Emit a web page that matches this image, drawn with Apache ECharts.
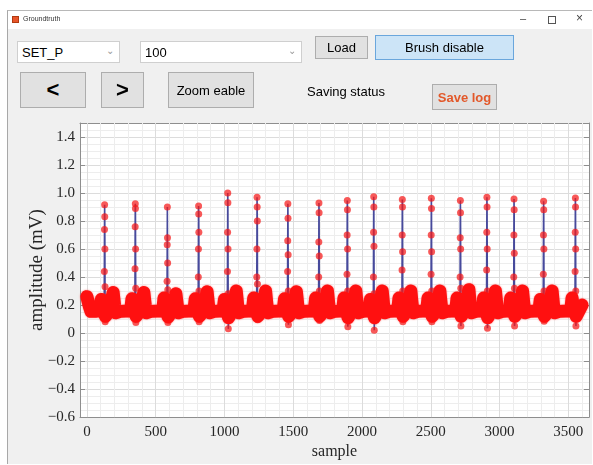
<!DOCTYPE html>
<html><head><meta charset="utf-8">
<script src="https://cdn.jsdelivr.net/npm/echarts@6/dist/echarts.min.js"></script>
<style>
html,body{margin:0;padding:0;width:593px;height:465px;overflow:hidden;background:#fff;font-family:"Liberation Sans",Arial,sans-serif;}
#win{position:absolute;left:7px;top:10px;width:585px;height:454px;background:#f0f0f0;border-left:1px solid #a8a8a8;border-top:1px solid #b8b8b8;box-sizing:border-box;}
#titlebar{position:absolute;left:0;top:0;width:100%;height:18px;background:#fff;}
#chart{position:absolute;left:0;top:0;width:593px;height:465px;z-index:1;}
.ui{position:absolute;z-index:2;box-sizing:border-box;font-size:13px;color:#000;white-space:nowrap;}
.btn{background:#e1e1e1;border:1px solid #adadad;display:flex;align-items:center;justify-content:center;}
.dd{background:#fff;border:1px solid #cfcfcf;display:flex;align-items:center;padding-left:4px;}
.chev{position:absolute;right:5px;top:3px;color:#9a9a9a;font-size:10px;}
</style></head>
<body>
<div id="win"><div id="titlebar"></div></div>
<div class="ui" style="left:12px;top:16px;width:7px;height:7px;background:#e8552a;border:1px solid #b03a10;"></div>
<div class="ui" style="left:23px;top:15px;font-size:7px;color:#333;">Groundtruth</div>
<div class="ui" style="left:520px;top:12px;font-size:11px;color:#444;">&#8211;</div>
<div class="ui" style="left:548px;top:16px;width:8px;height:8px;border:1px solid #555;"></div>
<div class="ui" style="left:576px;top:11px;font-size:12px;color:#444;">&#215;</div>

<div class="ui dd" style="left:17px;top:41px;width:103px;height:22px;">SET_P<span class="chev">&#8964;</span></div>
<div class="ui dd" style="left:140px;top:41px;width:162px;height:22px;">100<span class="chev">&#8964;</span></div>
<div class="ui btn" style="left:315px;top:36px;width:53px;height:23px;">Load</div>
<div class="ui btn" style="left:375px;top:35px;width:139px;height:25px;background:#cce4f7;border-color:#6aa6dc;">Brush disable</div>
<div class="ui btn" style="left:20px;top:72px;width:66px;height:36px;font-size:22px;font-weight:bold;">&lt;</div>
<div class="ui btn" style="left:101px;top:72px;width:43px;height:36px;font-size:22px;font-weight:bold;">&gt;</div>
<div class="ui btn" style="left:168px;top:72px;width:86px;height:36px;">Zoom eable</div>
<div class="ui" style="left:307px;top:84px;">Saving status</div>
<div class="ui btn" style="left:432px;top:84px;width:65px;height:26px;font-weight:bold;color:#e2582a;">Save log</div>

<div id="chart"></div>
<script>
// ---- axis ticks ----
const xTickValues = [0, 500, 1000, 1500, 2000, 2500, 3000, 3500];
const xMinorGrid = [100, 200, 300, 400, 600, 700, 800, 900, 1100, 1200, 1300, 1400,
  1600, 1700, 1800, 1900, 2100, 2200, 2300, 2400, 2600, 2700, 2800, 2900,
  3100, 3200, 3300, 3400, 3600];
const yTickValues = [-0.6, -0.4, -0.2, 0, 0.2, 0.4, 0.6, 0.8, 1.0, 1.2, 1.4];

// ---- ECG baseline trace (sample, amplitude mV) ----
const bandTrace = [
  [0,0.26],[8,0.25],[18,0.19],[30,0.155],[60,0.155],
  [95,0.16],[105,0.24],[115,0.175],[126,0.17],[135,0.12],[151,0.14],[174,0.22],[191,0.29],[201,0.2],[209,0.145],[244,0.155],
  [318,0.16],[328,0.245],[338,0.175],[349,0.17],[358,0.12],[374,0.14],[397,0.22],[414,0.29],[424,0.2],[432,0.145],[467,0.155],
  [551,0.16],[561,0.25],[571,0.175],[582,0.17],[591,0.115],[607,0.14],[630,0.21],[647,0.28],[657,0.2],[665,0.145],[700,0.155],
  [778,0.16],[788,0.245],[798,0.175],[809,0.17],[818,0.12],[834,0.14],[857,0.22],[874,0.295],[884,0.2],[892,0.145],[927,0.155],
  [990,0.16],[1000,0.24],[1010,0.175],[1021,0.17],[1030,0.11],[1046,0.14],[1069,0.22],[1086,0.3],[1096,0.2],[1104,0.145],[1139,0.155],
  [1203,0.16],[1213,0.25],[1223,0.175],[1234,0.17],[1243,0.12],[1259,0.14],[1282,0.22],[1299,0.3],[1309,0.2],[1317,0.145],[1352,0.155],
  [1427,0.16],[1437,0.245],[1447,0.175],[1458,0.17],[1467,0.12],[1483,0.14],[1506,0.22],[1523,0.295],[1533,0.2],[1541,0.145],[1576,0.155],
  [1653,0.16],[1663,0.25],[1673,0.175],[1684,0.17],[1693,0.12],[1709,0.145],[1732,0.22],[1749,0.3],[1759,0.2],[1767,0.145],[1802,0.155],
  [1859,0.16],[1869,0.25],[1879,0.175],[1890,0.17],[1899,0.11],[1915,0.14],[1938,0.22],[1955,0.3],[1965,0.2],[1973,0.145],[2008,0.155],
  [2051,0.16],[2061,0.24],[2071,0.175],[2082,0.17],[2091,0.11],[2107,0.14],[2130,0.22],[2147,0.3],[2157,0.2],[2165,0.145],[2200,0.155],
  [2259,0.16],[2269,0.25],[2279,0.175],[2290,0.17],[2299,0.12],[2315,0.145],[2338,0.22],[2355,0.3],[2365,0.2],[2373,0.145],[2408,0.155],
  [2470,0.16],[2480,0.25],[2490,0.175],[2501,0.17],[2510,0.12],[2526,0.14],[2549,0.22],[2566,0.3],[2576,0.2],[2584,0.145],[2619,0.155],
  [2681,0.16],[2691,0.25],[2701,0.175],[2712,0.17],[2721,0.12],[2737,0.145],[2760,0.23],[2777,0.31],[2787,0.2],[2795,0.145],[2830,0.155],
  [2874,0.16],[2884,0.25],[2894,0.175],[2905,0.17],[2914,0.11],[2930,0.14],[2953,0.22],[2970,0.3],[2980,0.2],[2988,0.145],[3023,0.155],
  [3071,0.16],[3081,0.25],[3091,0.175],[3102,0.17],[3111,0.12],[3127,0.14],[3150,0.22],[3167,0.3],[3177,0.2],[3185,0.145],[3220,0.155],
  [3286,0.16],[3296,0.24],[3306,0.175],[3317,0.17],[3326,0.12],[3342,0.14],[3365,0.22],[3382,0.3],[3392,0.2],[3400,0.145],[3435,0.155],
  [3517,0.16],[3527,0.25],[3537,0.175],[3548,0.17],[3557,0.12],[3573,0.15],[3599,0.2]
];

// ---- QRS spikes, one list per beat (sample, amplitude mV) ----
const spikeBeats = [
  [[126,0.19],[127,0.44],[128,0.74],[129,0.916],[130,0.83],[131,0.6],[132,0.33],[133,0.08],[135,0.12]],
  [[349,0.2],[350,0.46],[351,0.76],[352,0.923],[353,0.89],[354,0.6],[355,0.32],[356,0.075],[358,0.12]],
  [[582,0.19],[583,0.37],[584,0.63],[585,0.9],[586,0.68],[587,0.5],[588,0.31],[589,0.075],[591,0.11]],
  [[809,0.2],[810,0.4],[811,0.6],[812,0.907],[813,0.85],[814,0.72],[815,0.3],[816,0.08],[818,0.12]],
  [[1021,0.2],[1022,0.44],[1023,0.72],[1024,1.0],[1025,0.93],[1026,0.6],[1027,0.28],[1028,0.03],[1030,0.11]],
  [[1234,0.2],[1235,0.4],[1236,0.6],[1237,0.97],[1238,0.9],[1239,0.8],[1240,0.35],[1241,0.095],[1243,0.12]],
  [[1458,0.2],[1459,0.44],[1460,0.66],[1461,0.923],[1462,0.82],[1463,0.56],[1464,0.3],[1465,0.06],[1467,0.12]],
  [[1684,0.2],[1685,0.4],[1686,0.65],[1687,0.928],[1688,0.86],[1689,0.55],[1690,0.3],[1691,0.09],[1693,0.12]],
  [[1890,0.2],[1891,0.42],[1892,0.7],[1893,0.946],[1894,0.88],[1895,0.6],[1896,0.3],[1897,0.045],[1899,0.11]],
  [[2082,0.2],[2083,0.4],[2084,0.72],[2085,0.974],[2086,0.9],[2087,0.62],[2088,0.28],[2089,0.02],[2091,0.11]],
  [[2290,0.2],[2291,0.45],[2292,0.7],[2293,0.953],[2294,0.9],[2295,0.58],[2296,0.3],[2297,0.08],[2299,0.12]],
  [[2501,0.2],[2502,0.42],[2503,0.7],[2504,0.963],[2505,0.89],[2506,0.58],[2507,0.3],[2508,0.08],[2510,0.12]],
  [[2712,0.2],[2713,0.4],[2714,0.68],[2715,0.946],[2716,0.86],[2717,0.6],[2718,0.32],[2719,0.05],[2721,0.12]],
  [[2905,0.2],[2906,0.45],[2907,0.72],[2908,0.97],[2909,0.9],[2910,0.6],[2911,0.3],[2912,0.035],[2914,0.11]],
  [[3102,0.2],[3103,0.4],[3104,0.7],[3105,0.958],[3106,0.88],[3107,0.57],[3108,0.32],[3109,0.05],[3111,0.12]],
  [[3317,0.2],[3318,0.42],[3319,0.7],[3320,0.942],[3321,0.88],[3322,0.6],[3323,0.3],[3324,0.085],[3326,0.12]],
  [[3548,0.2],[3549,0.44],[3550,0.72],[3551,0.965],[3552,0.9],[3553,0.6],[3554,0.3],[3555,0.05],[3557,0.12]]
];

const chart = echarts.init(document.getElementById('chart'), null, {renderer: 'canvas'});
const serif = '"Liberation Serif","Times New Roman",serif';
const frameColor = '#8e8e8e';
const txtColor = '#262626';

const gridLines = xTickValues.map(v => ({xAxis: v, lineStyle: {color: '#dcdcdc', width: 1, type: 'solid'}}))
  .concat(xMinorGrid.map(v => ({xAxis: v, lineStyle: {color: '#ededed', width: 1, type: 'solid'}})));

const spikeSeries = spikeBeats.map(beat => ({
  type: 'line', data: beat, xAxisIndex: 0, yAxisIndex: 0, z: 2,
  showSymbol: true, showAllSymbol: true, symbol: 'circle', symbolSize: 7,
  itemStyle: {color: 'rgba(245,25,25,0.72)', borderWidth: 0},
  lineStyle: {color: '#474a9c', width: 1.6},
  emphasis: {disabled: true}, silent: true
}));

const option = {
  animation: false,
  backgroundColor: 'transparent',
  grid: {left: 80, top: 123, width: 509, height: 299, show: true, backgroundColor: '#ffffff', borderWidth: 0},
  xAxis: [
    {type: 'value', position: 'bottom', min: -50, max: 3650,
     axisLine: {onZero: false, lineStyle: {color: frameColor, width: 1}},
     axisTick: {inside: true, length: 5, customValues: xTickValues, lineStyle: {color: frameColor}},
     axisLabel: {customValues: xTickValues, margin: 7, fontFamily: serif, fontSize: 15, color: txtColor,
       formatter: v => String(v)},
     splitLine: {show: false},
     name: 'sample', nameLocation: 'middle', nameGap: 23,
     nameTextStyle: {fontFamily: serif, fontSize: 16, color: txtColor}},
    {type: 'value', position: 'top', min: -50, max: 3650,
     axisLine: {onZero: false, lineStyle: {color: frameColor, width: 1}},
     axisTick: {inside: true, length: 5, customValues: xTickValues, lineStyle: {color: frameColor}},
     axisLabel: {show: false}, splitLine: {show: false}}
  ],
  yAxis: [
    {type: 'value', position: 'left', min: -0.6, max: 1.5, interval: 0.2,
     axisLine: {onZero: false, lineStyle: {color: frameColor, width: 1}},
     axisTick: {inside: true, length: 5, customValues: yTickValues, lineStyle: {color: frameColor}},
     axisLabel: {customValues: yTickValues, margin: 5, fontFamily: serif, fontSize: 15, color: txtColor,
       formatter: v => Math.abs(v) < 1e-9 ? '0' : v.toFixed(1).replace('-', '\u2212')},
     splitLine: {show: true, lineStyle: {color: '#dcdcdc', width: 1}},
     minorTick: {show: false, splitNumber: 4},
     minorSplitLine: {show: true, lineStyle: {color: '#ededed', width: 1}},
     name: 'amplitude (mV)', nameLocation: 'middle', nameGap: 33, nameRotate: 90, nameMoveOverlap: false,
     nameTextStyle: {fontFamily: serif, fontSize: 19, color: txtColor}},
    {type: 'value', position: 'right', min: -0.6, max: 1.5, interval: 0.2,
     axisLine: {onZero: false, lineStyle: {color: frameColor, width: 1}},
     axisTick: {inside: true, length: 5, customValues: yTickValues, lineStyle: {color: frameColor}},
     axisLabel: {show: false}, splitLine: {show: false}}
  ],
  series: [
    {type: 'line', data: bandTrace, xAxisIndex: 0, yAxisIndex: 0, z: 3, silent: true,
     showSymbol: false, symbol: 'none',
     lineStyle: {color: '#ff1010', width: 13, cap: 'round', join: 'round',
       shadowBlur: 2, shadowColor: 'rgba(255,40,40,0.6)'},
     markLine: {silent: true, symbol: 'none', z: 1, animation: false, label: {show: false},
       emphasis: {disabled: true}, data: gridLines}}
  ].concat(spikeSeries)
};
chart.setOption(option);
</script>
</body></html>
